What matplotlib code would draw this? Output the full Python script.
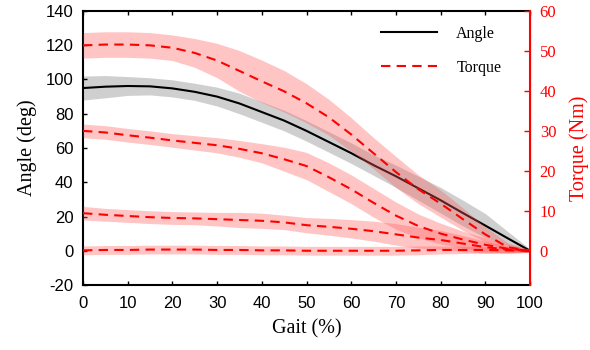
import numpy as np
import matplotlib
matplotlib.use("Agg")
import matplotlib.pyplot as plt

plt.rcParams["axes.unicode_minus"] = False

# gait cycle (%)
gait = [0, 5, 10, 15, 20, 25, 30, 35, 40, 45, 50, 55, 60, 65, 70, 75, 80, 85, 90, 95, 100]

# angle (deg), mean and half band
angle = [95, 95.8, 96.2, 96, 94.8, 92.8, 90, 86, 81, 76, 70, 63.5, 57, 50, 43.5, 36.5, 29.5, 22, 14.7, 7.3, 0]
angle_sd = [7, 6.5, 5.5, 5, 5, 5, 5.5, 6, 6, 6, 6, 6, 6, 6, 6.5, 7, 7.5, 7.5, 7, 4, 1]

# torque (Nm), four conditions, mean and half band
torque1 = [51.4, 51.6, 51.6, 51.4, 50.8, 49.5, 47.6, 45.0, 42.4, 39.9, 36.9, 33.4, 29.1, 24.4, 19.7, 15.4, 11.8, 7.9, 4.1, 0.9, 0]
torque1_sd = [3.2, 3.2, 3.2, 3.2, 3.2, 3.6, 4.3, 5.1, 5.3, 5.2, 4.9, 4.5, 4.2, 3.9, 3.9, 3.6, 3.4, 2.8, 1.9, 1.1, 0.2]
torque2 = [30.0, 29.6, 28.9, 28.3, 27.6, 27.0, 26.4, 25.5, 24.4, 22.9, 21.2, 18.4, 15.4, 12.0, 8.8, 6.2, 4.3, 2.8, 1.5, 0.5, 0]
torque2_sd = [1.7, 1.7, 1.7, 1.7, 1.7, 1.8, 1.9, 2.1, 2.4, 3.0, 3.4, 3.6, 3.6, 3.6, 3.4, 3.0, 2.6, 2.1, 1.7, 1.1, 0.4]
torque3 = [9.4, 9.0, 8.7, 8.4, 8.2, 8.1, 7.9, 7.7, 7.5, 7.1, 6.4, 6.0, 5.5, 4.9, 4.1, 3.3, 2.7, 1.8, 0.9, 0.3, 0]
torque3_sd = [1.7, 1.6, 1.6, 1.6, 1.6, 1.6, 1.7, 1.9, 1.9, 1.8, 1.9, 2.1, 2.3, 2.5, 2.7, 2.6, 2.4, 2.0, 1.5, 0.9, 0.4]
torque4 = [0.1, 0.2, 0.2, 0.3, 0.3, 0.3, 0.2, 0.2, 0.1, 0.1, 0, 0, 0, 0, 0, 0.1, 0.2, 0.2, 0.2, 0.1, 0]
torque4_sd = [1.1, 1.1, 1.1, 1.1, 1.1, 1.1, 1.1, 1.1, 1.1, 1.1, 1.1, 1.1, 1.1, 1.1, 1.1, 1.1, 1.0, 0.9, 0.8, 0.6, 0.4]

serif = "Liberation Serif"
sans = "Liberation Sans"

fig = plt.figure(figsize=(5.9, 3.5), dpi=100)
ax = fig.add_axes([0.1407, 0.1857, 0.7576, 0.7829])
ax2 = ax.twinx()

x = np.array(gait)

# angle on left axis
a = np.array(angle)
asd = np.array(angle_sd)
ax.fill_between(x, a - asd, a + asd, color="#b0b0b0", alpha=0.6, lw=0)
line_a, = ax.plot(x, a, color="black", lw=1.5, label="Angle")

# torques on right axis
for m, s in [(torque1, torque1_sd), (torque2, torque2_sd), (torque3, torque3_sd), (torque4, torque4_sd)]:
    m = np.array(m)
    s = np.array(s)
    ax2.fill_between(x, m - s, m + s, color="#ff5a5a", alpha=0.35, lw=0)
    line_t, = ax2.plot(x, m, color="red", lw=1.5, dashes=(4.5, 3), label="Torque")

ax.set_xlim(0, 100)
ax.set_ylim(-20, 140)
ax2.set_ylim(-60 * 20 / 140, 60)
ax.set_xticks(np.arange(0, 101, 10))
ax.set_yticks(np.arange(-20, 141, 20))
ax2.set_yticks(np.arange(0, 61, 10))

ax.tick_params(axis="both", direction="in", length=3, width=1, labelsize=12, pad=7, top=True)
ax.tick_params(axis="x", pad=8)
for lab in ax.get_xticklabels() + ax.get_yticklabels():
    lab.set_fontfamily(sans)
ax2.tick_params(axis="y", direction="in", length=4, width=1, colors="red", labelsize=12, pad=7)
for lab in ax2.get_yticklabels():
    lab.set_fontfamily(serif)

for sp in ["left", "bottom", "top"]:
    ax.spines[sp].set_linewidth(1.5)
ax2.spines["right"].set_color("red")
ax2.spines["right"].set_linewidth(1.5)
for sp in ["left", "bottom", "top"]:
    ax2.spines[sp].set_visible(False)

ax.set_xlabel("Gait (%)", fontfamily=serif, fontsize=14.5, labelpad=6)
ax.set_ylabel("Angle (deg)", fontfamily=serif, fontsize=14.5, labelpad=6)
ax2.set_ylabel("Torque (Nm)", fontfamily=serif, fontsize=14.5, color="red", labelpad=9)

ax2.legend([line_a, line_t], ["Angle", "Torque"], loc="upper left",
           bbox_to_anchor=(0.667, 0.945), frameon=False, borderpad=0, borderaxespad=0,
           handlelength=3.5, handletextpad=1.2, labelspacing=1.1,
           prop={"family": serif, "size": 11.5})

fig.savefig("out.png", dpi=100)
